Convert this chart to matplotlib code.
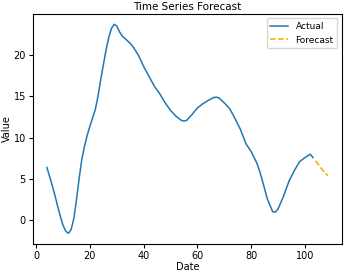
import matplotlib
matplotlib.use("Agg")
import matplotlib.pyplot as plt

# Actual series
dates = [4, 5, 6, 7, 8, 9, 10, 11, 12, 13, 14, 15, 16, 17, 18, 19, 20, 21, 22,
         23, 24, 25, 26, 27, 28, 29, 30, 31, 32, 33, 34, 35, 36, 38, 40, 42, 44,
         46, 48, 50, 52, 54, 55, 56, 58, 60, 62, 64, 66, 67, 68, 70, 72, 74, 76,
         78, 80, 82, 83, 84, 86, 88, 89, 90, 92, 94, 96, 98, 100, 102, 103]
values = [6.4, 5.3, 4.2, 3.0, 1.7, 0.5, -0.6, -1.3, -1.55, -1.1, 0.2, 2.5, 5.1,
          7.4, 9.0, 10.3, 11.4, 12.4, 13.4, 15.0, 17.0, 18.8, 20.6, 22.1, 23.2,
          23.7, 23.5, 22.8, 22.3, 22.0, 21.7, 21.4, 21.0, 20.0, 18.6, 17.4, 16.2,
          15.3, 14.2, 13.3, 12.6, 12.1, 12.0, 12.1, 12.8, 13.6, 14.1, 14.5, 14.85,
          14.9, 14.8, 14.2, 13.5, 12.3, 11.0, 9.3, 8.3, 7.0, 6.1, 5.0, 2.6, 1.05,
          1.0, 1.4, 2.9, 4.7, 6.0, 7.1, 7.6, 8.0, 7.6]

# Forecast series
fc_dates = [104, 106, 108.5]
fc_values = [7.2, 6.3, 5.4]

fig = plt.figure(figsize=(3.46, 2.72), dpi=100)
ax = fig.add_axes([0.095, 0.104, 0.893, 0.845])

ax.plot(dates, values, color='#1f77b4', lw=1.1, label='Actual')
ax.plot(fc_dates, fc_values, color='orange', lw=1.1, ls='--', label='Forecast')

ax.set_title('Time Series Forecast', fontsize=7.5, pad=3)
ax.set_xlabel('Date', fontsize=7, labelpad=1)
ax.set_ylabel('Value', fontsize=7, labelpad=1)
ax.tick_params(labelsize=7, length=3, pad=2)
ax.set_xticks([0, 20, 40, 60, 80, 100])
ax.set_yticks([0, 5, 10, 15, 20])
ax.legend(loc='upper right', fontsize=6.5)

fig.savefig('out.png', dpi=100)
